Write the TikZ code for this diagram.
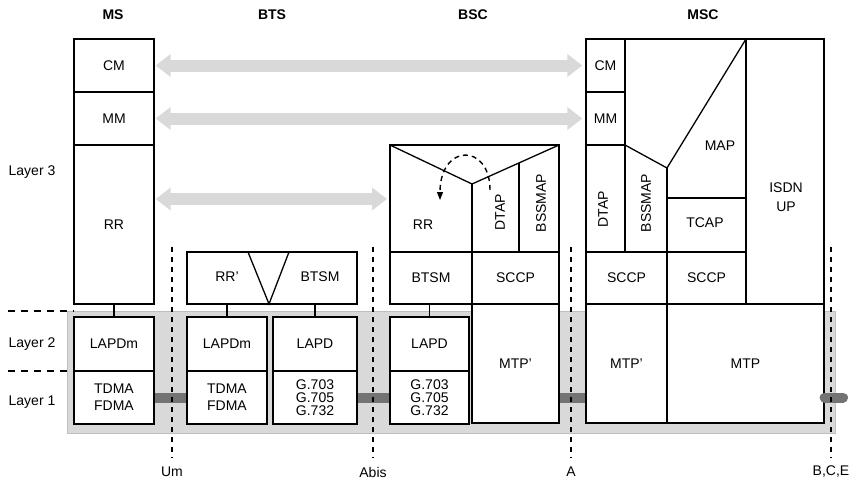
\documentclass[tikz,border=0pt]{standalone}
\usepackage{fontspec}
\setmainfont{Liberation Sans}
\usetikzlibrary{arrows.meta}

\begin{document}
\begin{tikzpicture}[x=1pt, y=-1pt,
    font=\fontsize{14}{13}\selectfont,
    box/.style={draw, line width=1.3pt, fill=white, inner sep=0pt, align=center},
    edge/.style={line width=1.3pt},
    head/.style={font=\fontsize{14}{16}\selectfont\bfseries},
    peer/.style={line width=12pt, draw=black!15,
        {Triangle[length=15pt,width=22pt]}-{Triangle[length=15pt,width=22pt]},
        shorten <=1pt, shorten >=3pt},
    link/.style={line width=10pt, draw=black!55},
    iface/.style={line width=1.3pt, dash pattern=on 5pt off 5pt},
    lvl/.style={line width=1.3pt, dash pattern=on 7pt off 6pt},
    two/.style={font=\fontsize{14}{17}\selectfont}]

    \useasboundingbox (0,0) rectangle (852,480);

    % --- Überschriften und Schichten ---
    \node[head] (msHead) at (113,15) {MS};
    \node[head] (btsHead) at (272,15) {BTS};
    \node[head] (bscHead) at (473,15) {BSC};
    \node[head] (mscHead) at (703,15) {MSC};

    \node (layer3) at (32,172) {Layer 3};
    \node (layer2) at (32,344) {Layer 2};
    \node (layer1) at (32,402) {Layer 1};

    % grauer Hintergrund Schicht 1/2
    \draw[fill=black!15, draw=black!25, line width=1pt] (67,311) rectangle (835,433);
    \draw[lvl] (8,311) -- (74,311);
    \draw[lvl] (8,371) -- (74,371);

    % --- MS ---
    \node[box, minimum width=80pt, minimum height=53pt] (msCM) at (114,65.5) {CM};
    \node[box, minimum width=80pt, minimum height=53pt] (msMM) at (114,118.5) {MM};
    \node[box, minimum width=80pt, minimum height=159pt] (msRR) at (114,224.5) {RR};
    \node[box, minimum width=80pt, minimum height=54pt] (msL2) at (114,344) {LAPDm};
    \node[box, two, minimum width=80pt, minimum height=53pt] (msL1) at (114,397.5) {TDMA\\FDMA};

    % --- BTS ---
    \node[box, minimum width=170pt, minimum height=52pt] (btsTop) at (272,278) {};
    \draw[edge] (248,252) -- (269,304) -- (289,252);
    \node (btsRR) at (227,277) {RR’};
    \node (btsBTSM) at (320,277) {BTSM};
    \node[box, minimum width=80pt, minimum height=54pt] (btsL2a) at (227,344) {LAPDm};
    \node[box, two, minimum width=80pt, minimum height=53pt] (btsL1a) at (227,397.5) {TDMA\\FDMA};
    \node[box, minimum width=84pt, minimum height=54pt] (btsL2b) at (315,344) {LAPD};
    \node[box, minimum width=84pt, minimum height=53pt] (btsL1b) at (315,397.5) {G.703\\G.705\\G.732};

    % --- BSC ---
    \draw[edge, fill=white] (390,145) rectangle (559,252);
    \draw[edge] (390,145) -- (472,184) -- (559,145);
    \draw[edge] (472,184) -- (472,252);
    \draw[edge] (519,163) -- (519,252);
    \node (bscRR) at (423,225) {RR};
    \node[rotate=90] (bscDTAP) at (500,212) {DTAP};
    \node[rotate=90] (bscBSSMAP) at (541,203) {BSSMAP};
    \draw[line width=1.4pt, dash pattern=on 5pt off 4pt, -{Triangle[length=8pt,width=6pt]}]
        (490,190) .. controls (490,143) and (440,143) .. (440,200);
    \node[box, minimum width=82pt, minimum height=52pt] (bscBTSM) at (431,278) {BTSM};
    \node[box, minimum width=87pt, minimum height=52pt] (bscSCCP) at (515.5,278) {SCCP};
    \node[box, minimum width=79pt, minimum height=54pt] (bscL2) at (429.5,344) {LAPD};
    \node[box, minimum width=79pt, minimum height=53pt] (bscL1) at (429.5,397.5) {G.703\\G.705\\G.732};
    \node[box, minimum width=87pt, minimum height=119pt] (bscMTP) at (515.5,363.5) {MTP’};
    \coordinate (bscW) at (390,199);

    % --- MSC ---
    \draw[edge, fill=white] (586,39) rectangle (824,304);
    \draw[edge] (625,39) -- (625,252);
    \draw[edge] (625,145) -- (667,168) -- (746,39);
    \draw[edge] (667,168) -- (667,304);
    \draw[edge] (746,39) -- (746,304);
    \draw[edge] (667,198) -- (746,198);
    \draw[edge] (586,145) -- (625,145);
    \node[box, minimum width=39pt, minimum height=53pt] (mscCM) at (605.5,65.5) {CM};
    \node[box, minimum width=39pt, minimum height=53pt] (mscMM) at (605.5,118.5) {MM};
    \node[rotate=90] (mscDTAP) at (603,209) {DTAP};
    \node[rotate=90] (mscBSSMAP) at (646,203) {BSSMAP};
    \node (mscMAP) at (720,146) {MAP};
    \node (mscTCAP) at (705,223) {TCAP};
    \node[align=center, font=\fontsize{14}{19}\selectfont] (mscISUP) at (786,197) {ISDN\\UP};
    \node[box, minimum width=81pt, minimum height=52pt] (mscSCCPa) at (626.5,278) {SCCP};
    \node[box, minimum width=79pt, minimum height=52pt] (mscSCCPb) at (706.5,278) {SCCP};
    \node[box, minimum width=81pt, minimum height=119pt] (mscMTPa) at (626.5,363.5) {MTP’};
    \node[box, minimum width=157pt, minimum height=119pt] (mscMTP) at (745.5,363.5) {MTP};
    \coordinate (linkEnd) at (843,397.5);

    % Verbindungen innerhalb der Stacks
    \draw[edge] (msRR.south) -- (msL2.north);
    \draw[edge] (btsL2a.north) -- (btsL2a.north |- btsTop.south);
    \draw[edge] (btsL2b.north) -- (btsL2b.north |- btsTop.south);
    \draw[edge] (bscL2.north) -- (bscL2.north |- bscBTSM.south);

    % Peer-to-Peer Pfeile
    \draw[peer] (msCM.east) -- (mscCM.west);
    \draw[peer] (msMM.east) -- (mscMM.west);
    \draw[peer] (msRR.east |- bscW) -- (bscW);

    % physikalische Verbindungen
    \draw[link] (msL1.east) -- (btsL1a.west);
    \draw[link] (btsL1b.east) -- (bscL1.west);
    \draw[link] (bscMTP.east |- bscL1.east) -- (mscMTPa.west |- bscL1.east);
    \draw[link, line cap=round] (mscMTP.east |- bscL1.east) -- (linkEnd);

    % Schnittstellen
    \foreach \x/\name in {172/Um, 373/Abis, 571/A, 831/{B,C,E}} {
        \draw[iface] (\x,247) -- (\x,458);
        \node at (\x,472) {\name};
    }
\end{tikzpicture}
\end{document}
